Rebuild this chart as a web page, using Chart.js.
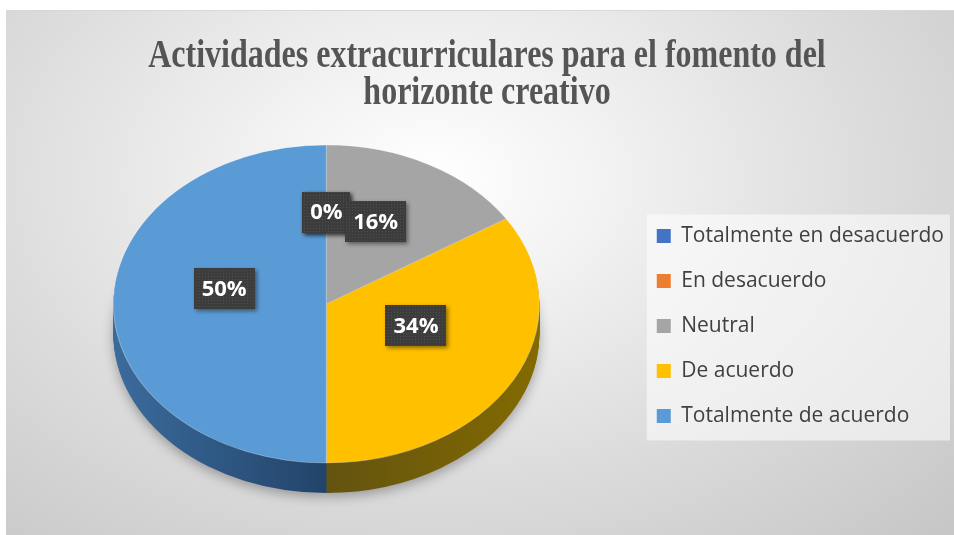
<!DOCTYPE html>
<html><head><meta charset="utf-8">
<script src="https://cdn.jsdelivr.net/npm/chart.js@4/dist/chart.umd.min.js"></script>
<style>
html,body{margin:0;padding:0;background:#fff;width:954px;height:535px;overflow:hidden}
#wrap{position:absolute;left:6px;top:10px;width:948px;height:525px;
background:radial-gradient(ellipse at 45% 32%, #ffffff 0%, #f3f3f3 22%, #dcdcdc 60%, #c6c6c6 100%);
border-top:1px solid #d8d8d8;box-sizing:border-box}
canvas{position:absolute;left:0;top:0}
</style></head><body>
<div id="wrap"><canvas id="c" width="948" height="525"></canvas></div>
<script>
// ---- data ----
const titleLines = ['Actividades extracurriculares para el fomento del', 'horizonte creativo'];
const categories = ['Totalmente en desacuerdo', 'En desacuerdo', 'Neutral', 'De acuerdo', 'Totalmente de acuerdo'];
const values = [0, 0, 16, 34, 50];
const valueLabels = ['0%', '0%', '16%', '34%', '50%'];
const topColors = ['#4472c4', '#ed7d31', '#a5a5a5', '#ffc000', '#5b9bd5'];
const sideEdgeColors = ['#2f5390', '#a85422', '#7a7a7a', '#836a00', '#3b6b9c'];
const sideCenterColors = ['#1e3866', '#6e3612', '#555555', '#635310', '#22446a'];

// ---- look ----
const PIE_RX = 213, PIE_RY = 159, PIE_DEPTH = 30, PIE_CY_OFFSET = -22;
const LABEL_F = 0.48, LABEL_SHIFT = -15.5;
const TITLE_STRETCH = 1.27;

function makePattern() {
  const c = document.createElement('canvas');
  c.width = 3; c.height = 3;
  const x = c.getContext('2d');
  x.fillStyle = '#3c3c3c'; x.fillRect(0, 0, 3, 3);
  x.fillStyle = '#4e4e4e'; x.fillRect(1, 1, 1, 1);
  return c;
}
const patCanvas = makePattern();

let geo = null;
const pie3d = {
  id: 'pie3d',
  beforeDraw(chart) {
    // legend panel
    const lg = chart.legend;
    if (lg && lg.legendHitBoxes && lg.legendHitBoxes.length) {
      const hb = lg.legendHitBoxes;
      const first = hb[0], last = hb[hb.length - 1];
      const ctx = chart.ctx;
      ctx.save();
      ctx.fillStyle = 'rgba(255,255,255,0.55)';
      const x0 = first.left - 10, y0 = first.top - 11;
      ctx.fillRect(x0, y0, chart.width - 4 - x0, last.top + last.height + 14 - y0);
      ctx.restore();
    }
  },
  beforeDatasetsDraw(chart) {
    const arcs = chart.getDatasetMeta(0).data;
    if (!arcs.length) return;
    const p0 = arcs[0].getProps(['x', 'y', 'outerRadius'], true);
    const cx = p0.x, cy = p0.y, R = p0.outerRadius;
    const sx = PIE_RX / R, sy = PIE_RY / R;
    const cyT = cy + PIE_CY_OFFSET;
    geo = {cx, cy, R, sx, sy, cyT};
    const ctx = chart.ctx;
    // side walls
    for (let d = PIE_DEPTH; d >= 1; d--) {
      arcs.forEach((a, i) => {
        const p = a.getProps(['startAngle', 'endAngle'], true);
        if (p.endAngle - p.startAngle <= 0) return;
        ctx.save();
        ctx.translate(cx, cyT + d);
        ctx.scale(sx, sy);
        const g = ctx.createLinearGradient(-R, 0, R, 0);
        g.addColorStop(0, sideEdgeColors[i]);
        g.addColorStop(0.5, sideCenterColors[i]);
        g.addColorStop(1, sideEdgeColors[i]);
        if (d === PIE_DEPTH) {
          ctx.shadowColor = 'rgba(0,0,0,0.3)';
          ctx.shadowBlur = 12;
          ctx.shadowOffsetY = 4;
        }
        ctx.beginPath();
        ctx.moveTo(0, 0);
        ctx.arc(0, 0, R, p.startAngle, p.endAngle);
        ctx.closePath();
        ctx.fillStyle = g;
        ctx.fill();
        ctx.restore();
      });
    }
    // top face transform
    ctx.save();
    ctx.translate(cx, cyT);
    ctx.scale(sx, sy);
    ctx.translate(-cx, -cy);
  },
  afterDatasetsDraw(chart) {
    if (!geo) return;
    const ctx = chart.ctx;
    ctx.restore();
    const arcs = chart.getDatasetMeta(0).data;
    const pat = ctx.createPattern(patCanvas, 'repeat');
    ctx.save();
    ctx.font = 'bold 22px "Open Sans"';
    ctx.textAlign = 'center';
    ctx.textBaseline = 'middle';
    arcs.forEach((a, i) => {
      const p = a.getProps(['startAngle', 'endAngle'], true);
      const mid = (p.startAngle + p.endAngle) / 2;
      const lx = geo.cx + Math.cos(mid) * PIE_RX * LABEL_F;
      const ly = geo.cyT + LABEL_SHIFT + Math.sin(mid) * PIE_RY * LABEL_F;
      const txt = valueLabels[i];
      const w = ctx.measureText(txt).width + 16, h = 41;
      ctx.save();
      ctx.shadowColor = 'rgba(0,0,0,0.45)';
      ctx.shadowBlur = 4; ctx.shadowOffsetX = 2; ctx.shadowOffsetY = 2;
      ctx.fillStyle = pat;
      ctx.fillRect(Math.round(lx - w / 2), Math.round(ly - h / 2), Math.round(w), h);
      ctx.restore();
      ctx.fillStyle = '#ffffff';
      ctx.fillText(txt, lx, ly + 1);
    });
    ctx.restore();
  }
};

const baseGen = Chart.overrides.doughnut.plugins.legend.labels.generateLabels;

const chart = new Chart(document.getElementById('c'), {
  type: 'pie',
  data: {
    labels: categories,
    datasets: [{
      data: values,
      backgroundColor: topColors,
      borderWidth: 1,
      borderColor: 'rgba(255,255,255,0.35)',
      clip: false
    }]
  },
  options: {
    responsive: false,
    animation: false,
    events: [],
    layout: {padding: {left: 14, right: 0, top: 0, bottom: 0}},
    plugins: {
      title: {
        display: true,
        text: titleLines,
        color: '#555555',
        font: {family: '"Liberation Serif", "Times New Roman", serif', size: 32, weight: 'bold', lineHeight: 0.92},
        padding: {top: 21, bottom: 25.1}
      },
      legend: {
        position: 'right',
        fullSize: false,
        maxWidth: 322,
        labels: {
          color: '#404040',
          font: {family: '"Open Sans", sans-serif', size: 21},
          boxWidth: 14,
          boxHeight: 14,
          padding: 24,
          generateLabels(ch) {
            return baseGen(ch).map(it => Object.assign(it, {lineWidth: 0, strokeStyle: 'rgba(0,0,0,0)'}));
          }
        }
      },
      tooltip: {enabled: false}
    }
  },
  plugins: [pie3d]
});

// vertically stretch the title, as in the reference
const tb = chart.titleBlock;
if (tb) {
  const origDraw = tb.draw.bind(tb);
  tb.draw = function () {
    const ctx = chart.ctx;
    ctx.save();
    ctx.translate(0, tb.top);
    ctx.scale(1, TITLE_STRETCH);
    ctx.translate(0, -tb.top);
    origDraw();
    ctx.restore();
  };
  chart.draw();
}
</script>
</body></html>
